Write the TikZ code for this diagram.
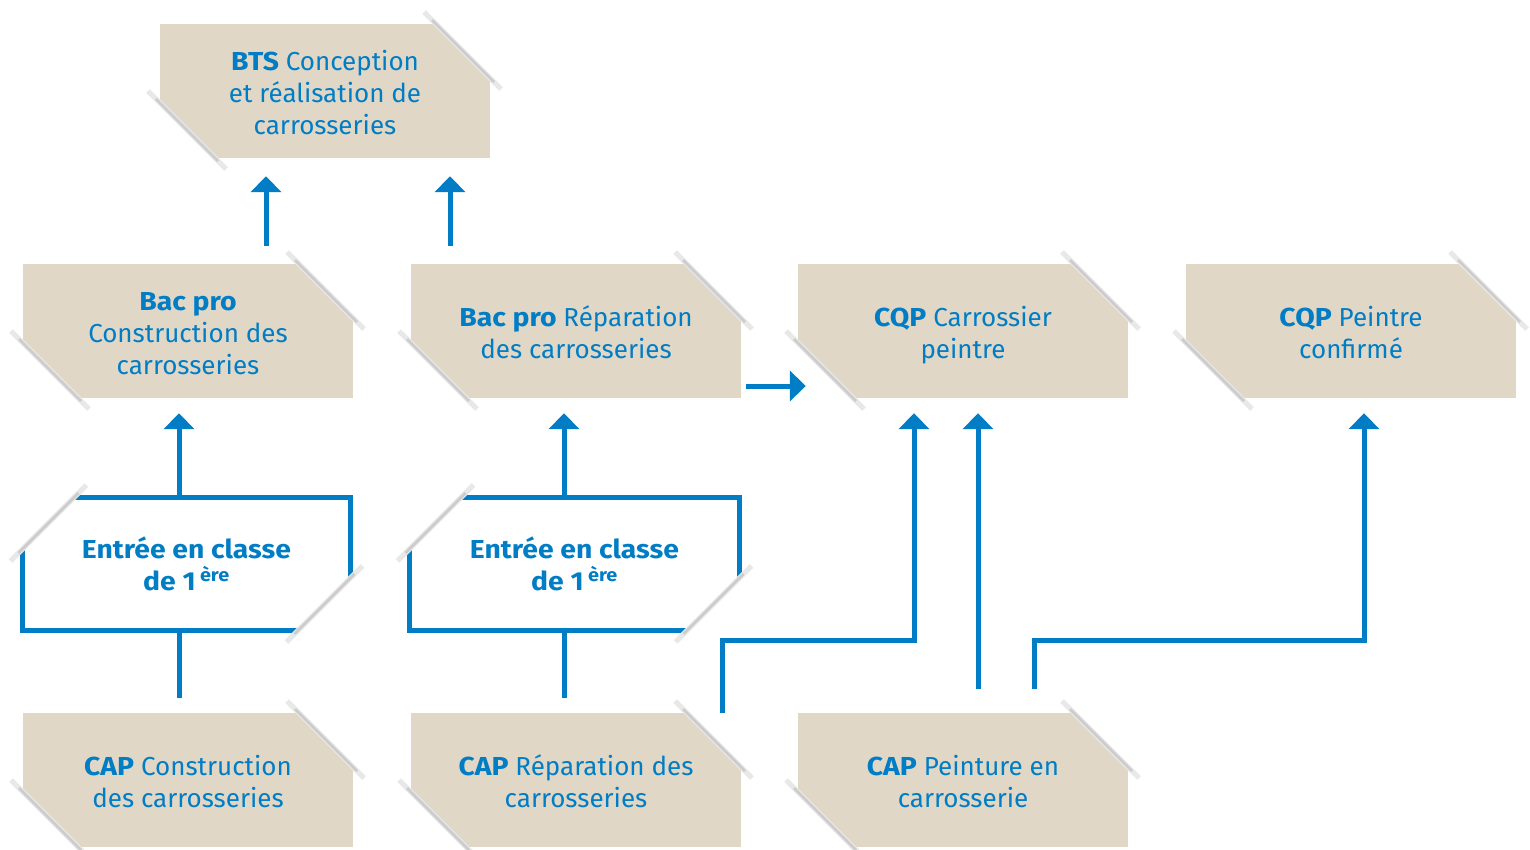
\documentclass[tikz,border=0pt]{standalone}
\usepackage{fontspec}
\setmainfont{Fira Sans}[BoldFeatures={FakeStretch=1.09}]
\usetikzlibrary{arrows.meta}
\definecolor{diagblue}{RGB}{0,125,197}
\definecolor{boxbeige}{RGB}{225,215,198}
\newcommand\ts{\rule[-9.6pt]{0pt}{42pt}}
\newcommand\bs{\rule[-9.6pt]{0pt}{20pt}}
\tikzset{
  x=1pt, y=-1pt,
  label/.style={inner sep=0pt, align=center, text=diagblue,
    font=\fontsize{26}{32}\selectfont},
  conn/.style={draw=diagblue, line width=5pt},
  arr/.style={conn, -{Triangle[width=30pt,length=16pt]}},
  shadowwide/.style={line width=5pt, black!9},
  shadownarrow/.style={line width=2.5pt, black!20},
}
% beige box with folded top-right and bottom-left corners; #1 left, #2 top
\newcommand\beigebox[2]{%
  \fill[boxbeige] (#1,#2) rectangle ++(330,134);
  \fill[white] (#1+264,#2-12) -- (#1+344,#2-12) -- (#1+344,#2+68) -- cycle;
  \fill[white] (#1-14,#2+65) -- (#1-14,#2+148) -- (#1+69,#2+148) -- cycle;
  \draw[shadowwide] (#1+264,#2-12) -- (#1+341,#2+65);
  \draw[shadownarrow] (#1+272,#2-4) -- (#1+334,#2+58);
  \draw[shadowwide] (#1-12,#2+67) -- (#1+66,#2+145);
  \draw[shadownarrow] (#1-4,#2+75) -- (#1+58,#2+137);
}
% outlined box with folded top-left and bottom-right corners; #1 L, #2 T, #3 R, #4 B
\newcommand\outlinebox[4]{%
  \draw[conn] (#1,#2) rectangle (#3,#4);
  \fill[white] (#1-14,#2-14) -- (#1+66,#2-14) -- (#1-14,#2+66) -- cycle;
  \fill[white] (#3+14,#4+14) -- (#3-66,#4+14) -- (#3+14,#4-66) -- cycle;
  \draw[shadowwide] (#1-12,#2+64) -- (#1+64,#2-12);
  \draw[shadownarrow] (#1-4,#2+56) -- (#1+56,#2-4);
  \draw[shadowwide] (#3-64,#4+12) -- (#3+12,#4-64);
  \draw[shadownarrow] (#3-56,#4+4) -- (#3+4,#4-56);
}
\begin{document}
\begin{tikzpicture}
\useasboundingbox (0,0) rectangle (1530,850);
% shapes
\beigebox{160}{24}
\beigebox{23}{264}
\beigebox{411}{264}
\beigebox{798}{264}
\beigebox{1186}{264}
\outlinebox{22.5}{497}{350.5}{630}
\outlinebox{409.5}{497}{739.5}{630}
\beigebox{23}{713}
\beigebox{411}{713}
\beigebox{798}{713}
% nodes
\node[label, minimum width=330pt, minimum height=134pt] (bts) at (325,91)
  {\ts\textbf{BTS} Conception\\et réalisation de\\carrosseries\bs};
\node[label, minimum width=330pt, minimum height=134pt] (bp1) at (188,331)
  {\ts\textbf{Bac pro}\\Construction des\\carrosseries\bs};
\node[label, minimum width=330pt, minimum height=134pt] (bp2) at (576,331)
  {\ts\textbf{Bac pro} Réparation\\des carrosseries\bs};
\node[label, minimum width=330pt, minimum height=134pt] (cqp1) at (963,331)
  {\ts\textbf{CQP} Carrossier\\peintre\bs};
\node[label, minimum width=330pt, minimum height=134pt] (cqp2) at (1351,331)
  {\ts\textbf{CQP} Peintre\\confirmé\bs};
\node[label, minimum width=328pt, minimum height=133pt] (ent1) at (186.5,563.5)
  {\ts\textbf{Entrée en classe}\\\textbf{de 1\,\smash{\textsuperscript{ère}}}\bs};
\node[label, minimum width=330pt, minimum height=133pt] (ent2) at (574.5,563.5)
  {\ts\textbf{Entrée en classe}\\\textbf{de 1\,\smash{\textsuperscript{ère}}}\bs};
\node[label, minimum width=330pt, minimum height=134pt] (cap1) at (188,780)
  {\ts\textbf{CAP} Construction\\des carrosseries\bs};
\node[label, minimum width=330pt, minimum height=134pt] (cap2) at (576,780)
  {\ts\textbf{CAP} Réparation des\\carrosseries\bs};
\node[label, minimum width=330pt, minimum height=134pt] (cap3) at (963,780)
  {\ts\textbf{CAP} Peinture en\\carrosserie\bs};
% connectors
\draw[arr] ([xshift=78pt,yshift=18pt]bp1.north) -- ([xshift=-59pt,yshift=-18pt]bts.south);
\draw[arr] ([xshift=-126pt,yshift=18pt]bp2.north) -- ([xshift=125pt,yshift=-18pt]bts.south);
\draw[arr] ([xshift=-7.5pt]ent1.north) -- ([xshift=-9pt,yshift=-15pt]bp1.south);
\draw[conn] ([xshift=-9pt,yshift=15pt]cap1.north) -- ([xshift=-7.5pt]ent1.south);
\draw[arr] ([xshift=-10.5pt]ent2.north) -- ([xshift=-12pt,yshift=-15pt]bp2.south);
\draw[conn] ([xshift=-12pt,yshift=15pt]cap2.north) -- ([xshift=-10.5pt]ent2.south);
\draw[arr] ([xshift=5pt,yshift=-55pt]bp2.east) -- ([xshift=8pt,yshift=-55pt]cqp1.west);
\draw[arr] ([xshift=146pt]cap2.north) -- ++(0,-72) -| ([xshift=-49pt,yshift=-15pt]cqp1.south);
\draw[arr] ([xshift=15pt,yshift=24pt]cap3.north) -- ([xshift=15pt,yshift=-15pt]cqp1.south);
\draw[arr] ([xshift=71pt,yshift=24pt]cap3.north) -- ++(0,-48) -| ([xshift=13pt,yshift=-15pt]cqp2.south);
\end{tikzpicture}
\end{document}
